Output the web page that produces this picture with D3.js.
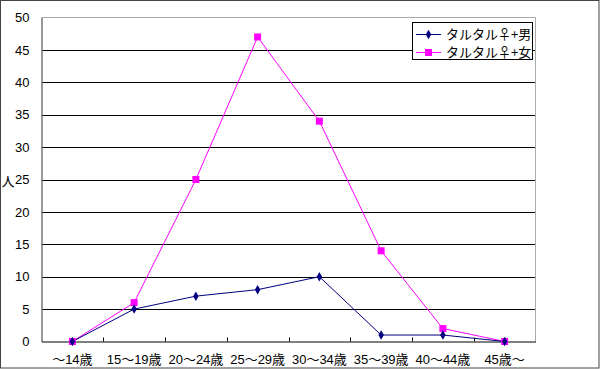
<!DOCTYPE html>
<html><head><meta charset="utf-8">
<script src="https://cdn.jsdelivr.net/npm/d3@7/dist/d3.min.js"></script>
<style>body{margin:0;background:#fff}svg{display:block}text{font-family:"Liberation Sans","Noto Sans CJK JP",sans-serif}</style>
</head><body><svg id="c" width="600" height="369"></svg>
<script>
const categories = ["～14歳","15～19歳","20～24歳","25～29歳","30～34歳","35～39歳","40～44歳","45歳～"];
const seriesNames = ["タルタル♀+男","タルタル♀+女"];
const maleValues = [0,5,7,8,10,1,1,0];
const femaleValues = [0,6,25,47,34,14,2,0];
const yTicks = [0,5,10,15,20,25,30,35,40,45,50];
const yLabel = "人";

const svg = d3.select("#c");
const L=41.5, R=535.5, T=17.5, B=341.5;
svg.append("rect").attr("x",0.5).attr("y",0.5).attr("width",598.5).attr("height",367.5).attr("fill","#fff").attr("stroke","#444");

const x = d3.scaleBand().domain(categories).range([L,R]).padding(0);
const y = d3.scaleLinear().domain([0,50]).range([B,T]);

svg.append("g").selectAll("line").data(yTicks.filter(d=>d>0&&d<50)).join("line")
  .attr("x1",L).attr("x2",R).attr("y1",d=>Math.round(y(d))+0.5).attr("y2",d=>Math.round(y(d))+0.5)
  .attr("stroke","#000");
svg.append("path").attr("d",`M${L},${T}H${R}V${B}`).attr("fill","none").attr("stroke","#aaa");
const ya = svg.append("g").attr("transform",`translate(${L},0)`)
  .call(d3.axisLeft(y).tickValues(yTicks).tickSize(0).tickPadding(12));
ya.select(".domain").attr("stroke","#777").attr("stroke-width",1.5);
ya.selectAll("text").attr("font-size",13).attr("fill","#000");
const xa = svg.append("g").attr("transform",`translate(0,${B})`)
  .call(d3.axisBottom(x).tickSize(0).tickPadding(13));
xa.select(".domain").attr("stroke","#000");
xa.selectAll("text").attr("font-size",13).attr("fill","#000");
svg.append("g").selectAll("line").data(categories.slice(1)).join("line")
  .attr("x1",d=>Math.round(x(d))+0.5).attr("x2",d=>Math.round(x(d))+0.5)
  .attr("y1",B).attr("y2",B-4).attr("stroke","#000");

svg.append("text").attr("x",8).attr("y",186).attr("font-size",13).attr("text-anchor","middle").text(yLabel);

const cx = d=>x(d)+x.bandwidth()/2;
const line = d3.line().x((d,i)=>cx(categories[i])).y(d=>y(d));
svg.append("path").datum(femaleValues).attr("d",line).attr("fill","none").attr("stroke","#ff00ff").attr("stroke-width",1);
svg.append("path").datum(maleValues).attr("d",line).attr("fill","none").attr("stroke","#000080").attr("stroke-width",1);
svg.append("g").selectAll("rect").data(femaleValues).join("rect")
  .attr("x",(d,i)=>cx(categories[i])-3.5).attr("y",d=>y(d)-3.5).attr("width",7).attr("height",7).attr("fill","#ff00ff");
svg.append("g").selectAll("path").data(maleValues).join("path")
  .attr("transform",(d,i)=>`translate(${cx(categories[i])},${y(d)})`)
  .attr("d",d3.symbol().type(d3.symbolDiamond).size(26)).attr("fill","#000080");

const lg = svg.append("g");
lg.append("rect").attr("x",412.5).attr("y",22.5).attr("width",120).attr("height",37).attr("fill","#fff").attr("stroke","#000");
const cols = ["#000080","#ff00ff"];
seriesNames.forEach((n,i)=>{
  const yy = 34+i*18;
  lg.append("line").attr("x1",416).attr("x2",441).attr("y1",yy+0.5).attr("y2",yy+0.5).attr("stroke",cols[i]);
  if(i===0) lg.append("path").attr("transform",`translate(428.5,${yy+0.5})`).attr("d",d3.symbol().type(d3.symbolDiamond).size(26)).attr("fill",cols[i]);
  else lg.append("rect").attr("x",425).attr("y",yy-3).attr("width",7).attr("height",7).attr("fill",cols[i]);
  lg.append("text").attr("x",446).attr("y",yy+5).attr("font-size",13).style("font-family","'Noto Sans CJK JP'").text(n);
});
</script></body></html>
